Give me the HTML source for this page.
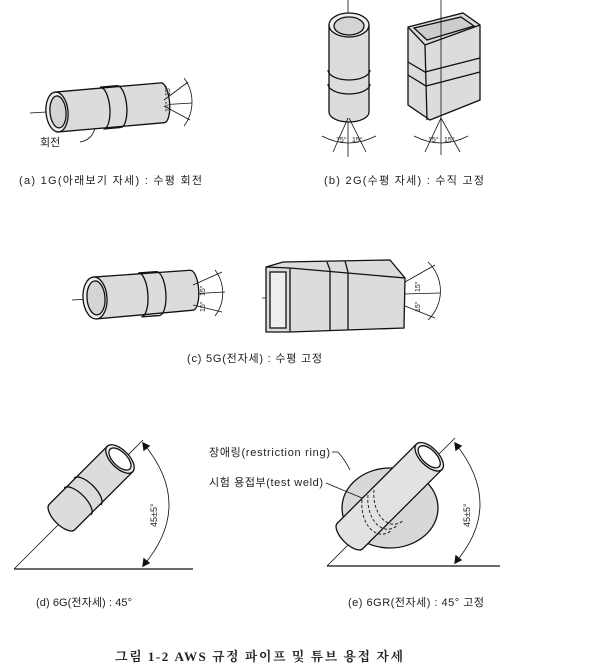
<!DOCTYPE html>
<html><head><meta charset="utf-8"><style>
html,body{margin:0;padding:0;background:#fff;}
svg{display:block;}
text{font-family:"Liberation Sans","Noto Sans CJK KR",sans-serif;fill:#222;}
</style></head><body>
<svg width="603" height="670" viewBox="0 0 603 670" xmlns="http://www.w3.org/2000/svg">
<g stroke="#111" stroke-width="1.3" fill="none">

<!-- (a) -->
<line x1="30" y1="113" x2="192" y2="103" stroke-width="0.8"/>
<g transform="translate(57,112) rotate(-5)">
  <path d="M0,-20 L106,-20 A7,20 0 0 1 106,20 L0,20 Z" fill="#dcdcdc"/>
  <path d="M45,-21 A8,21 0 0 1 45,21 M62,-21 A8,21 0 0 1 62,21" />
  <path d="M45,-21 L62,-21 M45,21 L62,21"/>
  <ellipse cx="0" cy="0" rx="11" ry="20" fill="#eee"/>
  <ellipse cx="1" cy="0" rx="8" ry="16" fill="#d4d4d4"/>
</g>
<line x1="164" y1="100" x2="188" y2="82" stroke-width="0.8"/>
<line x1="164" y1="106" x2="190" y2="120" stroke-width="0.8"/>
<path d="M184,78 A40,40 0 0 1 184,126" stroke-width="0.8"/>
<path d="M95,128 Q92,140 80,142" stroke-width="0.8"/>

<!-- (b) cylinder -->
<line x1="348" y1="0" x2="348" y2="157" stroke-width="0.8"/>
<path d="M329,25 L329,112 A20,10 0 0 0 369,112 L369,25 Z" fill="#dcdcdc"/>
<path d="M328,70 A21,10 0 0 0 370,70 M328,84 A21,10 0 0 0 370,84"/>
<ellipse cx="349" cy="25" rx="20" ry="12" fill="#eee"/>
<ellipse cx="349" cy="26" rx="15" ry="9" fill="#d4d4d4"/>
<line x1="348" y1="118" x2="333" y2="152" stroke-width="0.8"/>
<line x1="349" y1="118" x2="366" y2="152" stroke-width="0.8"/>
<path d="M322,136 Q348,150 376,136" stroke-width="0.8"/>

<!-- (b) box -->
<path d="M408,27 L463,13 L480,25 L480,100 L430,120 L408,105 Z" fill="#dcdcdc"/>
<path d="M408,27 L425,45 L480,25 M425,45 L427,120"/>
<path d="M414,28 L461,17 L474,26 L427,40 Z" fill="#ccc"/>
<path d="M408,62 L425,72 L480,58 M408,75 L426,86 L480,72"/>
<line x1="441" y1="0" x2="441" y2="155" stroke-width="0.8"/>
<line x1="441" y1="118" x2="425" y2="152" stroke-width="0.8"/>
<line x1="441" y1="118" x2="460" y2="152" stroke-width="0.8"/>
<path d="M414,136 Q441,150 468,136" stroke-width="0.8"/>

<!-- (c) pipe -->
<line x1="72" y1="300" x2="225" y2="292" stroke-width="0.8"/>
<g transform="translate(95,298) rotate(-4)">
  <path d="M0,-21 L97,-21 A7,20 0 0 1 97,19 L0,21 Z" fill="#dcdcdc"/>
  <path d="M45,-22 A8,22 0 0 1 45,22 M63,-22 A8,22 0 0 1 63,22 M45,-22 L63,-22 M45,22 L63,22"/>
  <ellipse cx="0" cy="0" rx="12" ry="21" fill="#eee"/>
  <ellipse cx="1" cy="0" rx="9" ry="17" fill="#d4d4d4"/>
</g>
<line x1="193" y1="285" x2="222" y2="272" stroke-width="0.8"/>
<line x1="193" y1="305" x2="222" y2="312" stroke-width="0.8"/>
<path d="M215,270 A38,38 0 0 1 215,316" stroke-width="0.8"/>

<!-- (c) box -->
<line x1="262" y1="298" x2="440" y2="293" stroke-width="0.8"/>
<path d="M266,267 L283,262 L390,260 L405,278 L404,328 L290,332 L266,332 Z" fill="#dcdcdc"/>
<path d="M266,267 L290,268 L405,278 M290,268 L290,332"/>
<rect x="270" y="272" width="16" height="56" fill="#eee"/>
<path d="M327,262 L330,270 L330,331 M345,261 L348,272 L348,330"/>
<line x1="405" y1="282" x2="435" y2="265" stroke-width="0.8"/>
<line x1="405" y1="306" x2="435" y2="318" stroke-width="0.8"/>
<path d="M428,262 A40,40 0 0 1 428,320" stroke-width="0.8"/>

<!-- (d) -->
<line x1="14" y1="569" x2="193" y2="569"/>
<line x1="14" y1="569" x2="143" y2="440" stroke-width="0.8"/>
<g transform="translate(62,517) rotate(-45)">
  <path d="M0,-18 L82,-18 L82,18 L0,18 A8,18 0 0 1 0,-18 Z" fill="#dcdcdc"/>
  <path d="M22,-19 A8,19 0 0 1 22,19 M36,-19 A8,19 0 0 1 36,19"/>
  <ellipse cx="82" cy="0" rx="9" ry="18" fill="#eee"/>
  <ellipse cx="82" cy="0" rx="7" ry="14" fill="#fff"/>
</g>
<path d="M143,443 Q195,505 143,566" stroke-width="0.8"/>
<path d="M143,443 l1,7 l5,-4 Z M143,566 l6,-3 l-5,-4 Z" fill="#111"/>

<!-- (e) -->
<line x1="327" y1="566" x2="500" y2="566"/>
<line x1="327" y1="566" x2="455" y2="438" stroke-width="0.8"/>
<ellipse cx="390" cy="508" rx="48" ry="40" fill="#d8d8d8"/>
<g transform="translate(350,536) rotate(-45)">
  <path d="M0,-18 L112,-18 L112,18 L0,18 A8,18 0 0 1 0,-18 Z" fill="#e2e2e2"/>
  <ellipse cx="112" cy="0" rx="9" ry="18" fill="#eee"/>
  <ellipse cx="112" cy="0" rx="7" ry="14" fill="#fff"/>
</g>
<path d="M362,500 A20,30 0 0 0 392,530 M368,495 A20,30 0 0 0 398,525 M374,490 A20,30 0 0 0 404,520" stroke-dasharray="3,2" stroke-width="0.9"/>
<path d="M332,452 L338,452 Q345,460 350,470" stroke-width="0.8"/>
<path d="M326,483 L362,498" stroke-width="0.8"/>
<path d="M455,443 Q505,505 455,563" stroke-width="0.8"/>
<path d="M455,443 l1,7 l5,-4 Z M455,563 l6,-3 l-5,-4 Z" fill="#111"/>
</g>

<g font-size="7">
<text x="170" y="96" transform="rotate(-90 170 96)">15°</text>
<text x="170" y="112" transform="rotate(-90 170 112)">15°</text>
<text x="336" y="142">15°</text><text x="352" y="142">15°</text>
<text x="428" y="142">15°</text><text x="444" y="142">15°</text>
<text x="205" y="296" transform="rotate(-90 205 296)">15°</text>
<text x="205" y="312" transform="rotate(-90 205 312)">15°</text>
<text x="420" y="292" transform="rotate(-90 420 292)">15°</text>
<text x="420" y="312" transform="rotate(-90 420 312)">15°</text>
</g>
<g font-size="9">
<text x="157" y="527" transform="rotate(-90 157 527)">45±5°</text>
<text x="470" y="527" transform="rotate(-90 470 527)">45±5°</text>
</g>

<g font-size="11">
<text x="40" y="146">회전</text>
<text x="19" y="184" textLength="183" lengthAdjust="spacing">(a) 1G(아래보기 자세) : 수평 회전</text>
<text x="324" y="184" textLength="160" lengthAdjust="spacing">(b) 2G(수평 자세) : 수직 고정</text>
<text x="187" y="362" textLength="135" lengthAdjust="spacing">(c) 5G(전자세) : 수평 고정</text>
<text x="209" y="456" textLength="121" lengthAdjust="spacing">장애링(restriction ring)</text>
<text x="209" y="486" textLength="114" lengthAdjust="spacing">시험 용접부(test weld)</text>
<text x="36" y="606" textLength="96" lengthAdjust="spacing">(d) 6G(전자세) : 45°</text>
<text x="348" y="606" textLength="136" lengthAdjust="spacing">(e) 6GR(전자세) : 45° 고정</text>
</g>
<text x="115" y="661" font-size="13" font-weight="bold" textLength="288" lengthAdjust="spacing" style="font-family:'Liberation Serif','Noto Serif CJK SC',serif">그림 1-2   AWS 규정 파이프 및 튜브 용접 자세</text>
</svg>
</body></html>
